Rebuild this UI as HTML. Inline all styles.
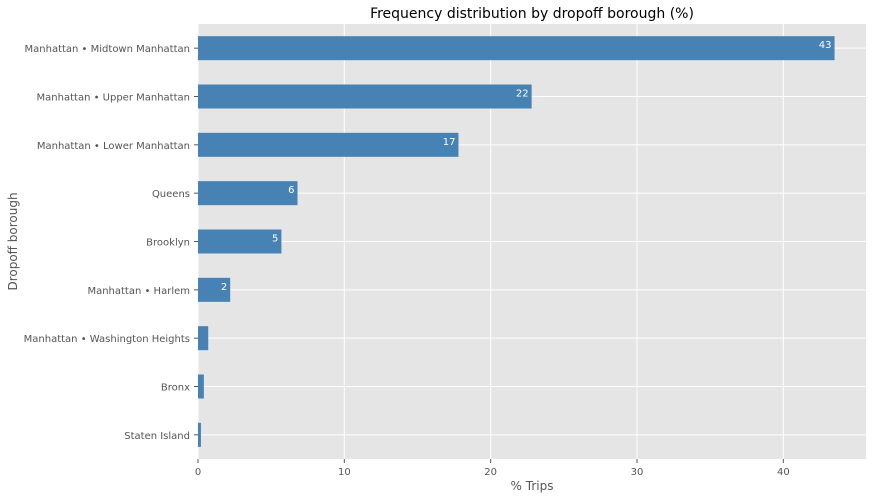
<!DOCTYPE html>
<html><head><meta charset="utf-8"><style>
body{margin:0;background:#fff;font-family:"DejaVu Sans","Liberation Sans",sans-serif}
svg text{font-family:"DejaVu Sans","Liberation Sans",sans-serif}
</style></head><body>
<svg id="c" width="874" height="500" xmlns="http://www.w3.org/2000/svg"></svg>
<script>
const categories=["Manhattan • Midtown Manhattan","Manhattan • Upper Manhattan","Manhattan • Lower Manhattan","Queens","Brooklyn","Manhattan • Harlem","Manhattan • Washington Heights","Bronx","Staten Island"];
const values=[43.5,22.8,17.8,6.8,5.7,2.2,0.7,0.4,0.2];
const labels=["43","22","17","6","5","2","","",""];
const xTicks=[0,10,20,30,40];
const L=198,R=866,T=24,B=459,xMax=45.65;
const x=v=>L+(v/xMax)*(R-L);
const step=(B-T)/categories.length;
const y=i=>T+step*(i+0.5);
const svg=document.getElementById('c');
const NS="http://www.w3.org/2000/svg";
function mk(t,a,txt){const e=document.createElementNS(NS,t);for(const k in a)e.setAttribute(k,a[k]);if(txt!==undefined)e.textContent=txt;svg.appendChild(e);return e;}
let e=mk('rect',{x:L,y:T,width:R-L,height:B-T,fill:'#e5e5e5'});


xTicks.forEach(t=>{
 let g=mk('line',{x1:x(t),x2:x(t),y1:T,y2:B,stroke:'#fff','stroke-width':1});
 
 
 let tk=mk('line',{x1:x(t),x2:x(t),y1:B,y2:B+4,stroke:'#555'});
 
 
 let lb=mk('text',{x:x(t),y:B+16,'text-anchor':'middle','font-size':10,fill:'#555'},t);
 
 
});
categories.forEach((c,i)=>{
 let g=mk('line',{x1:L,x2:R,y1:y(i),y2:y(i),stroke:'#fff','stroke-width':1});
 
 
});
categories.forEach((c,i)=>{
 let b=mk('rect',{x:L,y:y(i)-12,width:x(values[i])-L,height:24,fill:'#4682b4'});
 
 
 let tk=mk('line',{x1:L-4,x2:L,y1:y(i),y2:y(i),stroke:'#555'});
 
 
 let lb=mk('text',{x:L-8,y:y(i)+4,'text-anchor':'end','font-size':10,fill:'#555'},c);
 
 
 if(labels[i]){
  let v=mk('text',{x:x(values[i])-3,y:y(i),'text-anchor':'end','font-size':10,fill:'#fff'},labels[i]);
  
  
 }
});
e=mk('text',{x:(L+R)/2,y:18,'text-anchor':'middle','font-size':14,fill:'#000'},'Frequency distribution by dropoff borough (%)');


e=mk('text',{x:(L+R)/2,y:490,'text-anchor':'middle','font-size':12,fill:'#555'},'% Trips');


e=mk('text',{x:17,y:(T+B)/2,'text-anchor':'middle','font-size':12,fill:'#555',transform:`rotate(-90 17 ${(T+B)/2})`},'Dropoff borough');


</script>
</body></html>
